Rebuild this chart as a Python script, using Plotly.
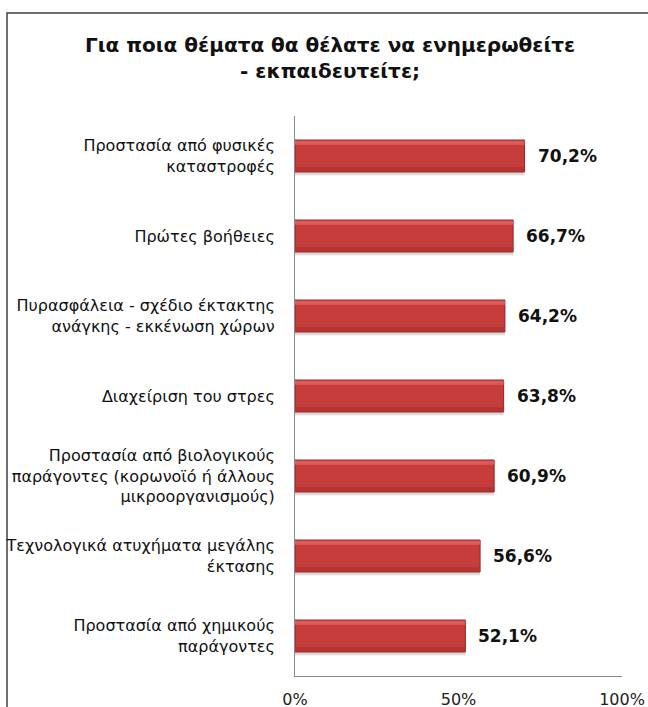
import plotly.graph_objects as go

# Survey topics (top to bottom) and share of respondents (%)
topics = [
    "Προστασία από φυσικές<br>καταστροφές",
    "Πρώτες βοήθειες",
    "Πυρασφάλεια - σχέδιο έκτακτης<br>ανάγκης - εκκένωση χώρων",
    "Διαχείριση του στρες",
    "Προστασία από βιολογικούς<br>παράγοντες (κορωνοϊό ή άλλους<br>μικροοργανισμούς)",
    "Τεχνολογικά ατυχήματα μεγάλης<br>έκτασης",
    "Προστασία από χημικούς<br>παράγοντες",
]
shares = [70.2, 66.7, 64.2, 63.8, 60.9, 56.6, 52.1]
tick_vals = [0, 50, 100]
tick_text = ["0%", "50%", "100%"]

title_text = "Για ποια θέματα θα θέλατε να ενημερωθείτε<br>- εκπαιδευτείτε;"

FONT = "DejaVu Sans"
W, H = 648, 707
L, R, T, B = 295, 26, 116, 31
pw, ph = W - L - R, H - T - B


def px_x(x):
    return (x - L) / pw


def px_y(y):
    return (H - B - y) / ph


fig = go.Figure()

# soft drop shadow under each bar
fig.add_trace(go.Bar(
    x=shares, y=topics, orientation="h", width=0.4, offset=-0.16,
    marker=dict(color="rgba(0,0,0,0.14)", line=dict(width=0)),
    hoverinfo="skip", showlegend=False,
))
# main red bar
fig.add_trace(go.Bar(
    x=shares, y=topics, orientation="h", width=0.4, offset=-0.2,
    marker=dict(color="#c63d3c", line=dict(color="#8e2626", width=1)),
    showlegend=False,
))
# lower darker band
fig.add_trace(go.Bar(
    x=shares, y=topics, orientation="h", width=0.05, offset=0.14,
    marker=dict(color="#b03434", line=dict(width=0)),
    hoverinfo="skip", showlegend=False,
))
# upper highlight band
fig.add_trace(go.Bar(
    x=shares, y=topics, orientation="h", width=0.05, offset=-0.19,
    marker=dict(color="#dc5b5a", line=dict(width=0)),
    hoverinfo="skip", showlegend=False,
))

# value labels next to each bar
for t, v in zip(topics, shares):
    fig.add_annotation(
        x=v, y=t, xref="x", yref="y", text=f"{v:.1f}".replace(".", ",") + "%",
        showarrow=False, xanchor="left", xshift=11,
        font=dict(family=FONT, size=17, color="#111111", weight="bold"),
    )

# chart title
fig.add_annotation(
    x=px_x(330), y=px_y(58), xref="paper", yref="paper",
    text=title_text, showarrow=False, xanchor="center", yanchor="middle",
    align="center",
    font=dict(family=FONT, size=20, color="#111111", weight="bold"),
)

# outer frame (extends past the right and bottom edges)
fig.add_shape(
    type="rect", xref="paper", yref="paper",
    x0=px_x(7), x1=px_x(W + 40),
    y0=px_y(H + 60), y1=px_y(13),
    line=dict(color="#404040", width=1.5), fillcolor="rgba(0,0,0,0)",
    layer="below",
)

fig.update_layout(
    width=W, height=H,
    margin=dict(l=L, r=R, t=T, b=B),
    paper_bgcolor="white", plot_bgcolor="white",
    barmode="overlay",
    xaxis=dict(
        range=[0, 100], tickvals=tick_vals, ticktext=tick_text,
        showgrid=False, zeroline=False, showline=True, linecolor="#8a8a8a",
        linewidth=1, ticks="", ticklabelstandoff=9, automargin=False,
        tickfont=dict(family=FONT, size=16, color="#222222"),
        fixedrange=True,
    ),
    yaxis=dict(
        autorange="reversed", showgrid=False, zeroline=False,
        showline=True, linecolor="#8a8a8a", linewidth=1, ticks="",
        ticklabelstandoff=16, automargin=False,
        tickfont=dict(family=FONT, size=16, color="#111111"),
        fixedrange=True,
    ),
    font=dict(family=FONT),
)

fig.write_html("out.html")
